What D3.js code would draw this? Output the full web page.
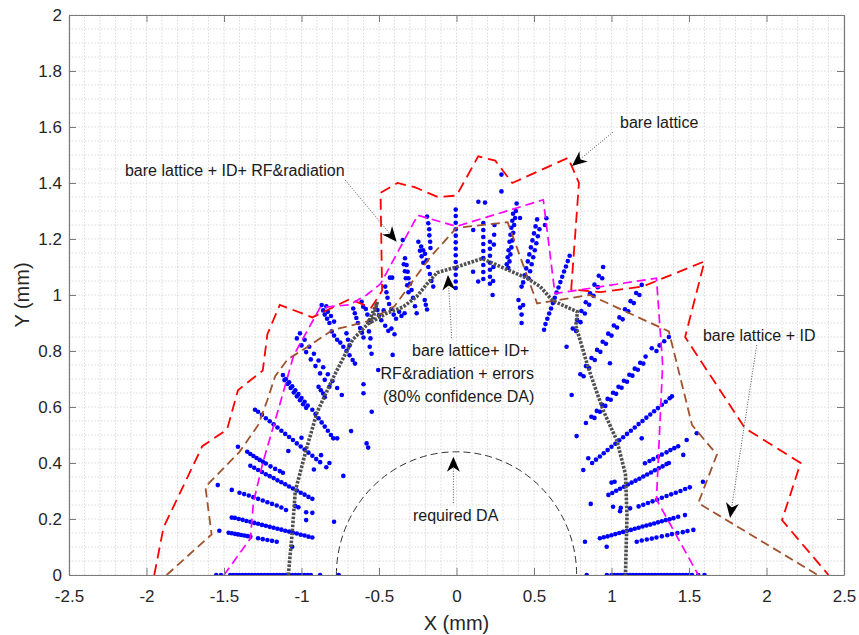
<!DOCTYPE html>
<html>
<head>
<meta charset="utf-8">
<script src="https://cdn.jsdelivr.net/npm/d3@7"></script>
<style>
  body { margin: 0; background: #fff; }
  svg { display: block; }
  text { font-family: "Liberation Sans", Arial, Helvetica, sans-serif; }
</style>
</head>
<body>
<svg id="chart" width="859" height="635"></svg>
<script>
// ---- axis ticks ----
const xTicks = [-2.5, -2, -1.5, -1, -0.5, 0, 0.5, 1, 1.5, 2, 2.5];
const xTickLabels = ["-2.5", "-2", "-1.5", "-1", "-0.5", "0", "0.5", "1", "1.5", "2", "2.5"];
const yTicks = [0, 0.2, 0.4, 0.6, 0.8, 1, 1.2, 1.4, 1.6, 1.8, 2];
const yTickLabels = ["0", "0.2", "0.4", "0.6", "0.8", "1", "1.2", "1.4", "1.6", "1.8", "2"];

// ---- dynamic aperture boundaries (x mm, y mm) ----
const bareLattice = [[-1.95,0],[-1.89,0.17],[-1.64,0.46],[-1.48,0.52],[-1.41,0.66],[-1.25,0.73],[-1.22,0.86],
  [-1.14,0.965],[-0.93,0.92],[-0.69,0.985],[-0.55,0.955],[-0.48,1.015],[-0.49,1.365],[-0.38,1.40],[-0.27,1.385],
  [-0.12,1.35],[0.0,1.355],[0.14,1.495],[0.25,1.48],[0.36,1.40],[0.72,1.49],[0.79,1.40],[0.74,1.02],[0.93,1.01],
  [1.20,1.03],[1.60,1.12],[1.475,0.85],[1.86,0.525],[2.22,0.40],[2.10,0.196],[2.40,0.0]];

const bareLatticeID = [[-1.87,0],[-1.58,0.145],[-1.62,0.315],[-1.40,0.44],[-1.28,0.535],[-1.22,0.625],[-1.17,0.71],
  [-1.09,0.77],[-0.96,0.815],[-0.80,0.875],[-0.58,0.905],[-0.40,0.96],[-0.17,1.135],[0.0,1.24],[0.33,1.26],
  [0.52,0.97],[0.86,1.0],[1.37,0.87],[1.52,0.535],[1.68,0.43],[1.56,0.257],[2.33,0]];

const bareLatticeIDRF = [[-1.50,0],[-1.33,0.13],[-1.31,0.26],[-1.25,0.40],[-1.15,0.59],[-1.05,0.785],[-0.88,0.955],
  [-0.69,0.965],[-0.58,1.0],[-0.49,1.04],[-0.25,1.285],[0.0,1.245],[0.56,1.34],[0.635,1.005],[1.29,1.06],
  [1.33,0.75],[1.29,0.27],[1.56,0]];

const confidenceDA = [[-1.085,0],[-1.06,0.15],[-1.04,0.30],[-0.965,0.457],[-0.90,0.58],[-0.85,0.64],[-0.80,0.70],
  [-0.67,0.84],[-0.575,0.895],[-0.51,0.975],[-0.545,0.905],[-0.45,0.935],[-0.345,0.957],[-0.257,0.994],
  [-0.19,1.04],[-0.125,1.08],[0.0,1.10],[0.165,1.13],[0.455,1.06],[0.54,1.03],[0.62,0.98],[0.78,0.94],
  [0.77,0.89],[0.85,0.74],[0.945,0.59],[1.035,0.48],[1.09,0.36],[1.10,0.21],[1.09,0]];

// required DA: half-axes of the ellipse (mm)
const requiredDA = { rx: 0.775, ry: 0.44 };

// ---- tracked particle end points, with errors ----
const lostOnAxisX = [-1.55,-1.52,-1.46,-1.44,-1.42,-1.40,-1.38,-1.36,-1.34,-1.32,-1.30,-1.28,-1.26,-1.24,-1.22,
  -1.20,-1.18,-1.16,-1.14,-1.12,-1.10,-1.08,-1.06,-1.04,-1.02,-1.00,-0.98,-0.96,-0.94,-0.88,-0.76,
  0.84,0.97,1.00,1.02,1.04,1.06,1.08,1.10,1.12,1.14,1.16,1.18,1.20,1.22,1.24,1.26,1.28,1.30,1.32,1.34,1.36,
  1.38,1.40,1.42,1.44,1.46,1.48,1.50,1.52,1.56,1.60];

const dotsLeft = [
  [-1.53,0.158],[-1.47,0.151],[-1.45,0.149],[-1.43,0.147],[-1.41,0.145],[-1.39,0.143],[-1.37,0.141],[-1.35,0.139],
  [-1.33,0.137],[-1.28,0.131],[-1.25,0.128],[-1.22,0.125],[-1.19,0.122],[-1.16,0.119],
  [-1.45,0.205],[-1.43,0.204],[-1.405,0.20],[-1.38,0.197],[-1.355,0.193],[-1.33,0.19],[-1.305,0.186],[-1.28,0.183],
  [-1.255,0.179],[-1.23,0.176],[-1.205,0.172],[-1.18,0.169],[-1.155,0.165],[-1.13,0.162],[-1.105,0.158],
  [-1.08,0.155],[-1.055,0.151],[-1.03,0.148],[-1.005,0.144],[-0.98,0.141],[-0.955,0.137],[-0.93,0.134],
  [-1.54,0.321],[-1.45,0.304],[-1.40,0.294],[-1.37,0.289],[-1.34,0.284],[-1.31,0.278],[-1.28,0.272],[-1.25,0.266],
  [-1.22,0.26],[-1.19,0.254],[-1.16,0.248],[-1.13,0.241],[-1.10,0.232],[-1.04,0.246],[-1.02,0.242],
  [-0.97,0.196],[-0.93,0.222],[-0.97,0.224],[-1.06,0.101],[-0.79,0.19],
  [-1.33,0.39],[-1.305,0.383],[-1.28,0.375],[-1.255,0.368],[-1.23,0.36],[-1.205,0.353],[-1.18,0.346],
  [-1.155,0.338],[-1.13,0.331],[-1.105,0.324],[-1.08,0.316],[-1.055,0.309],[-1.03,0.302],[-1.005,0.294],
  [-0.98,0.287],[-0.955,0.279],[-0.93,0.272],
  [-1.41,0.458],[-1.35,0.44],[-1.33,0.432],[-1.31,0.425],[-1.29,0.418],[-1.27,0.411],[-1.25,0.405],[-1.23,0.398],
  [-1.20,0.388],[-1.17,0.379],[-1.14,0.371],[-1.12,0.365],
  [-1.30,0.59],[-1.28,0.583],[-1.255,0.572],[-1.23,0.56],[-1.205,0.549],[-1.18,0.538],[-1.155,0.527],
  [-1.13,0.515],[-1.105,0.504],[-1.08,0.493],[-1.055,0.482],[-1.03,0.47],[-1.005,0.459],[-0.98,0.448],
  [-0.955,0.437],[-0.93,0.426],[-0.905,0.414],[-0.88,0.403],
  [-1.085,0.443],[-1.0,0.49],[-0.874,0.428],[-0.92,0.377],[-0.82,0.40],[-0.84,0.385],
  [-1.12,0.714],[-1.10,0.70],[-1.08,0.688],[-1.06,0.674],[-1.04,0.66],[-1.02,0.646],[-1.0,0.632],[-0.98,0.619],
  [-0.96,0.605],[-1.11,0.696],[-1.09,0.682],[-1.07,0.668],[-1.05,0.652],[-1.03,0.638],[-1.01,0.624],[-0.99,0.61],
  [-0.97,0.597],[-0.93,0.59],[-0.91,0.575],[-0.89,0.56],[-0.87,0.545],[-0.85,0.53],[-0.83,0.515],[-0.81,0.50],
  [-0.89,0.672],[-0.875,0.66],[-0.86,0.648],[-0.85,0.635],
  [-1.01,0.863],[-0.98,0.84],[-0.95,0.815],[-0.92,0.79],[-0.89,0.766],[-0.86,0.742],[-0.83,0.717],[-0.80,0.693],
  [-0.77,0.668],[-0.74,0.643],[-1.03,0.845],[-1.00,0.82],[-0.97,0.796],[-0.94,0.77],[-0.91,0.746],[-0.88,0.72],
  [-0.85,0.697],[-0.82,0.672]
];

const dotsTop = [
  [-0.87,0.964],[-0.86,0.945],[-0.85,0.93],[-0.835,0.915],[-0.82,0.90],[-0.805,0.87],[-0.79,0.855],[-0.77,0.84],
  [-0.75,0.83],[-0.73,0.815],[-0.71,0.80],[-0.69,0.785],[-0.67,0.768],[-0.655,0.755],
  [-0.84,0.96],[-0.83,0.94],[-0.81,0.925],[-0.79,0.905],[-0.71,0.863],[-0.70,0.84],[-0.69,0.82],
  [-0.666,0.952],[-0.656,0.935],[-0.646,0.918],[-0.636,0.90],[-0.622,0.882],[-0.61,0.865],[-0.60,0.848],
  [-0.612,0.976],[-0.602,0.958],[-0.585,0.95],[-0.575,0.93],[-0.56,0.91],[-0.565,0.87],[-0.555,0.845],
  [-0.56,0.815],[-0.548,0.79],[-0.51,0.946],[-0.50,0.928],[-0.485,0.91],[-0.47,0.945],[-0.46,0.89],
  [-0.44,0.872],[-0.42,0.88],[-0.40,0.86],
  [-0.60,0.681],[-0.60,0.649],[-0.547,0.583],[-0.505,0.732],[-0.412,0.786],[-0.58,0.47],[-0.57,0.455],
  [-0.68,0.514],[-0.73,0.354],[-0.795,0.488],[-0.77,0.488],
  [-0.43,1.062],[-0.415,1.062],[-0.46,1.03],[-0.452,1.01],[-0.445,0.99],[-0.435,0.968],[-0.42,0.95],
  [-0.405,0.93],[-0.39,0.915],[-0.37,0.94],[-0.355,0.925],[-0.335,0.935],
  [-0.347,1.196],[-0.332,1.131],[-0.322,1.107],[-0.315,1.083],[-0.31,1.06],[-0.30,1.04],[-0.29,1.018],
  [-0.28,0.99],[-0.268,0.96],[-0.257,0.935],[-0.34,1.11],[-0.333,1.085],[-0.327,1.06],[-0.318,1.035],[-0.31,1.01],
  [-0.246,1.19],[-0.228,1.173],[-0.215,1.16],[-0.203,1.147],[-0.193,1.124],[-0.182,1.10],[-0.172,1.075],
  [-0.162,1.05],[-0.15,1.03],[-0.236,1.158],[-0.225,1.138],[-0.214,1.115],[-0.205,0.982],[-0.198,0.965],
  [-0.19,0.948],
  [-0.19,1.28],[-0.182,1.256],[-0.176,1.235],[-0.175,1.213],[-0.17,1.19],[-0.168,1.168],
  [-0.005,1.305],[-0.005,1.282],[-0.005,1.258],[-0.005,1.235],[-0.005,1.212],[-0.005,1.188],[-0.005,1.165],
  [-0.005,1.142],[-0.005,1.118],[-0.005,1.095],[-0.005,1.072],[-0.005,1.048],[-0.005,1.025],
  [0.141,1.333],[0.184,1.33],[0.108,1.232],[0.107,1.083],[0.14,1.048],
  [0.173,1.257],[0.173,1.232],[0.173,1.207],[0.173,1.182],[0.173,1.157],[0.173,1.132],[0.173,1.107],
  [0.173,1.082],[0.173,1.057],
  [0.216,1.19],[0.216,1.165],[0.216,1.14],[0.216,1.115],[0.216,1.09],[0.216,1.065],[0.216,1.04],
  [0.245,1.25],[0.243,1.215],[0.241,1.18],[0.238,1.10],[0.236,1.05],[0.233,1.0],
  [0.29,1.43],[0.29,1.37],
  [0.388,1.327],[0.383,1.30],[0.378,1.275],[0.372,1.25],[0.366,1.222],[0.36,1.195],[0.354,1.17],[0.348,1.145],
  [0.342,1.12],[0.334,1.097],[0.365,1.29],[0.36,1.265],[0.354,1.24],[0.348,1.215],[0.342,1.19],[0.336,1.16],
  [0.33,1.135],[0.324,1.11],[0.41,1.275],
  [0.52,1.27],[0.51,1.245],[0.50,1.22],[0.49,1.195],[0.48,1.17],[0.47,1.145],[0.46,1.12],[0.45,1.095],
  [0.44,1.07],[0.43,1.045],[0.42,1.03],[0.535,1.235],[0.525,1.21],[0.515,1.185],[0.505,1.16],[0.495,1.135],
  [0.485,1.11],[0.475,1.085],[0.465,1.06],[0.58,1.274],[0.571,1.25],
  [0.40,0.982],[0.43,0.964],[0.42,0.93],[0.41,0.955],[0.42,0.90]
];

const dotsRight = [
  [0.73,1.14],[0.718,1.121],[0.706,1.102],[0.694,1.084],[0.682,1.065],[0.67,1.046],[0.658,1.027],[0.646,1.009],
  [0.634,0.99],[0.622,0.971],[0.61,0.952],[0.598,0.934],[0.586,0.915],[0.574,0.896],[0.565,0.876],
  [0.946,1.10],[0.918,1.069],[0.89,1.037],[0.862,1.006],[0.834,0.974],[0.806,0.943],[0.778,0.911],[0.75,0.88],
  [0.94,1.06],[0.912,1.028],[0.884,0.997],[0.856,0.965],[0.828,0.934],[0.80,0.903],[0.772,0.871],
  [1.195,1.036],[1.159,1.007],[1.123,0.978],[1.087,0.949],[1.051,0.92],[1.015,0.891],[0.979,0.862],[0.943,0.833],
  [0.907,0.804],[0.871,0.775],[0.835,0.746],[0.799,0.717],
  [1.18,1.0],[1.144,0.971],[1.108,0.942],[1.072,0.913],[1.036,0.884],[1.0,0.855],[0.964,0.826],[0.928,0.797],
  [0.892,0.768],[0.856,0.739],[0.82,0.71],
  [1.22,0.78],[1.185,0.758],[1.15,0.737],[1.115,0.715],[1.08,0.694],[1.045,0.672],[1.01,0.651],[0.975,0.629],
  [0.94,0.608],[0.905,0.586],[0.87,0.565],[0.835,0.543],
  [1.205,0.755],[1.17,0.733],[1.135,0.712],[1.10,0.69],[1.065,0.669],[1.03,0.647],[0.995,0.626],[0.96,0.604],
  [0.925,0.583],[0.89,0.561],
  [0.875,0.40],[0.90,0.412],[0.925,0.423],[0.95,0.435],[0.975,0.446],[1.0,0.458],[1.025,0.469],[1.05,0.481],
  [1.075,0.492],[1.10,0.504],[1.125,0.515],[1.15,0.527],[1.175,0.539],[1.20,0.55],[1.225,0.562],[1.25,0.573],
  [1.275,0.585],[1.30,0.596],[1.325,0.608],[1.35,0.619],[1.375,0.631],[1.39,0.638],
  [1.216,0.399],[1.245,0.407],[1.27,0.414],[1.30,0.422],[1.325,0.43],[1.355,0.438],[1.38,0.446],[1.405,0.453],
  [1.43,0.46],[1.463,0.429],[1.485,0.482],[1.55,0.506],
  [0.98,0.286],[1.005,0.293],[1.03,0.301],[1.055,0.308],[1.08,0.315],[1.105,0.323],[1.13,0.33],[1.155,0.337],
  [1.18,0.344],[1.205,0.352],[1.23,0.359],[1.255,0.366],[1.28,0.374],[1.305,0.381],[1.33,0.388],[1.355,0.396],
  [1.37,0.40],
  [1.175,0.245],[1.205,0.251],[1.235,0.257],[1.265,0.263],[1.295,0.269],[1.325,0.276],[1.355,0.282],[1.385,0.288],
  [1.415,0.294],[1.445,0.30],[1.475,0.307],[1.505,0.313],[1.59,0.333],[1.12,0.238],[1.01,0.244],[1.0,0.33],
  [1.02,0.333],[1.06,0.24],[1.055,0.228],
  [0.925,0.131],[0.95,0.135],[0.975,0.138],[1.0,0.142],[1.025,0.146],[1.05,0.15],[1.075,0.154],[1.10,0.158],
  [1.125,0.161],[1.15,0.165],[1.175,0.169],[1.20,0.173],[1.225,0.177],[1.25,0.18],[1.275,0.184],[1.30,0.188],
  [1.325,0.192],[1.35,0.196],[1.375,0.199],[1.40,0.203],[1.43,0.208],[1.474,0.214],
  [1.163,0.119],[1.195,0.123],[1.228,0.127],[1.26,0.13],[1.29,0.134],[1.325,0.138],[1.36,0.142],[1.39,0.146],
  [1.425,0.15],[1.46,0.153],[1.49,0.157],[1.528,0.161],
  [0.829,0.119],[0.969,0.101],[0.866,0.254],[0.818,0.375],[0.85,0.417],[0.775,0.496],[1.195,0.488],
  [0.743,0.643],[0.99,0.756],[0.71,0.815],[1.26,0.81],[1.29,0.80],[1.31,0.82],[1.34,0.835],[1.37,0.85]
];

// ---- annotations: text (left x, baseline y in mm) and arrow (tail -> head, mm) ----
const notes = [
  { lines: [["bare lattice", 1.055, 1.598]], from: [1.01, 1.582], to: [0.745, 1.461] },
  { lines: [["bare lattice + ID+ RF&radiation", -2.139, 1.424]], from: [-0.719, 1.411], to: [-0.386, 1.19] },
  { lines: [["bare lattice+ ID+", -0.287, 0.782], ["RF&radiation + errors", -0.490, 0.700],
            ["(80% confidence DA)", -0.474, 0.618]], from: [-0.031, 0.846], to: [-0.055, 1.071] },
  { lines: [["bare lattice + ID", 1.590, 0.834]], from: [1.937, 0.821], to: [1.765, 0.204] },
  { lines: [["required DA", -0.281, 0.193]], from: [-0.02, 0.257], to: [-0.02, 0.4225] }
];

// ---- drawing ----
const svg = d3.select("#chart");
const x = d3.scaleLinear().domain([-2.5, 2.5]).range([69, 844]);
const y = d3.scaleLinear().domain([0, 2]).range([575, 15]);

svg.append("rect").attr("x", 0).attr("y", 0).attr("width", 859).attr("height", 635).attr("fill", "#fff");

svg.append("defs").append("clipPath").attr("id", "plotArea")
  .append("rect").attr("x", x(-2.5)).attr("y", y(2))
  .attr("width", x(2.5) - x(-2.5)).attr("height", y(0) - y(2));

// grid (minor every 0.1 in x, 0.05 in y)
const gridX = d3.range(0, 51).map(i => -2.5 + i * 0.1);
const gridY = d3.range(0, 41).map(i => i * 0.05);
const grid = svg.append("g").attr("stroke", "#d4d4d4").attr("stroke-width", 0.8).attr("stroke-dasharray", "1.6,1.6");
grid.selectAll("line.gx").data(gridX).join("line").attr("class", "gx")
  .attr("x1", d => x(d)).attr("x2", d => x(d)).attr("y1", y(0)).attr("y2", y(2));
grid.selectAll("line.gy").data(gridY).join("line").attr("class", "gy")
  .attr("x1", x(-2.5)).attr("x2", x(2.5)).attr("y1", d => y(d)).attr("y2", d => y(d));

const plot = svg.append("g").attr("clip-path", "url(#plotArea)");

// required DA ellipse
plot.append("path")
  .attr("d", `M${x(-requiredDA.rx)},${y(0)} A${x(requiredDA.rx) - x(0)},${y(0) - y(requiredDA.ry)} 0 0 1 ${x(requiredDA.rx)},${y(0)}`)
  .attr("fill", "none").attr("stroke", "#333").attr("stroke-width", 1).attr("stroke-dasharray", "7,4");

// tracked particles
const allDots = lostOnAxisX.map(v => [v, 0]).concat(dotsLeft, dotsTop, dotsRight);
plot.append("g").attr("fill", "#0000ff")
  .selectAll("circle").data(allDots).join("circle")
  .attr("cx", d => x(d[0])).attr("cy", d => y(d[1])).attr("r", 2.3);

const line = d3.line().x(d => x(d[0])).y(d => y(d[1]));
plot.append("path").datum(bareLattice).attr("d", line).attr("fill", "none")
  .attr("stroke", "#ff0000").attr("stroke-width", 1.8).attr("stroke-dasharray", "11,6");
plot.append("path").datum(bareLatticeID).attr("d", line).attr("fill", "none")
  .attr("stroke", "#a0522d").attr("stroke-width", 1.8).attr("stroke-dasharray", "9,5");
plot.append("path").datum(bareLatticeIDRF).attr("d", line).attr("fill", "none")
  .attr("stroke", "#ff00ff").attr("stroke-width", 1.7).attr("stroke-dasharray", "9,5");
plot.append("path").datum(confidenceDA).attr("d", line).attr("fill", "none")
  .attr("stroke", "#505050").attr("stroke-width", 3.6).attr("stroke-dasharray", "2.6,1.4");

// annotations
const ann = svg.append("g");
notes.forEach(n => {
  const x0 = x(n.from[0]), y0 = y(n.from[1]), x1 = x(n.to[0]), y1 = y(n.to[1]);
  const ang = Math.atan2(y1 - y0, x1 - x0) * 180 / Math.PI;
  ann.append("line").attr("x1", x0).attr("y1", y0)
    .attr("x2", x1 - 9 * Math.cos(ang * Math.PI / 180)).attr("y2", y1 - 9 * Math.sin(ang * Math.PI / 180))
    .attr("stroke", "#555").attr("stroke-width", 1).attr("stroke-dasharray", "1,1.6");
  ann.append("path").attr("d", "M0,0 L-15,-6.5 L-10.5,0 L-15,6.5 Z")
    .attr("transform", `translate(${x1},${y1}) rotate(${ang})`).attr("fill", "#000");
  n.lines.forEach(l => {
    ann.append("text").attr("x", x(l[1])).attr("y", y(l[2])).attr("font-size", 16)
      .attr("fill", "#1a1a1a").text(l[0]);
  });
});

// axes with inward ticks on all four sides
const axisColor = "#7a7a7a";
const gx = svg.append("g").attr("transform", `translate(0,${y(0)})`)
  .call(d3.axisBottom(x).tickValues(xTicks).tickSizeInner(-7).tickSizeOuter(0).tickPadding(15)
    .tickFormat((d, i) => xTickLabels[i]));
const gy = svg.append("g").attr("transform", `translate(${x(-2.5)},0)`)
  .call(d3.axisLeft(y).tickValues(yTicks).tickSizeInner(-7).tickSizeOuter(0).tickPadding(7)
    .tickFormat((d, i) => yTickLabels[i]));
const gt = svg.append("g").attr("transform", `translate(0,${y(2)})`)
  .call(d3.axisTop(x).tickValues(xTicks).tickSizeInner(-7).tickSizeOuter(0).tickFormat(""));
const gr = svg.append("g").attr("transform", `translate(${x(2.5)},0)`)
  .call(d3.axisRight(y).tickValues(yTicks).tickSizeInner(-7).tickSizeOuter(0).tickFormat(""));
[gx, gy, gt, gr].forEach(g => {
  g.select(".domain").attr("stroke", axisColor).attr("stroke-width", 1.2);
  g.selectAll(".tick line").attr("stroke", axisColor).attr("stroke-width", 1);
  g.selectAll(".tick text").attr("fill", "#262626").attr("font-size", 17)
    .attr("font-family", "'Liberation Sans', Arial, Helvetica, sans-serif");
});

svg.append("text").attr("x", (x(-2.5) + x(2.5)) / 2).attr("y", 630).attr("text-anchor", "middle")
  .attr("font-size", 20).attr("fill", "#262626").text("X (mm)");
svg.append("text").attr("transform", `translate(29,${(y(0) + y(2)) / 2}) rotate(-90)`)
  .attr("text-anchor", "middle").attr("font-size", 20).attr("fill", "#262626").text("Y (mm)");
</script>
</body>
</html>
